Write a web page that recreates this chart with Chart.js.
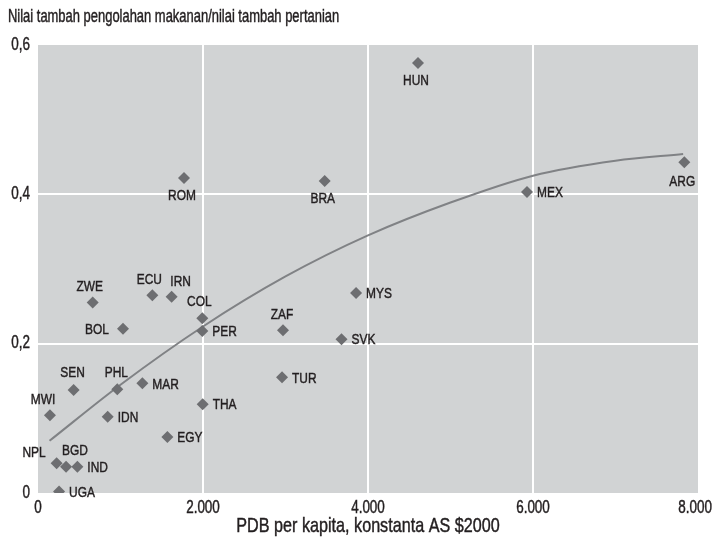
<!DOCTYPE html>
<html>
<head>
<meta charset="utf-8">
<script src="https://cdn.jsdelivr.net/npm/chart.js@4/dist/chart.umd.min.js"></script>
<style>
  html, body { margin: 0; padding: 0; background: #ffffff; }
  #wrap { width: 714px; height: 541px; }
</style>
</head>
<body>
<div id="wrap"><canvas id="chart" width="714" height="541"></canvas></div>
<script>
// Country codes
const countries = ['UGA','NPL','BGD','IND','MWI','SEN','PHL','IDN','MAR','EGY','THA',
  'ZWE','ECU','IRN','COL','PER','BOL','ZAF','SVK','MYS','TUR','HUN','BRA','ROM','MEX','ARG'];
// GDP per capita, constant 2000 US$
const gdpPerCapita = [255, 226, 340, 477, 145, 432, 961, 845, 1265, 1568, 1996,
  663, 1386, 1620, 1992, 1992, 1030, 2970, 3679, 3855, 2958, 4606, 3475, 1770, 5927, 7834];
// Food processing value added / agricultural value added
const foodRatio = [0.002, 0.040, 0.035, 0.035, 0.104, 0.138, 0.139, 0.102, 0.147, 0.075, 0.119,
  0.255, 0.265, 0.263, 0.234, 0.217, 0.220, 0.218, 0.206, 0.268, 0.155, 0.576, 0.418, 0.422, 0.403, 0.443];
// Fitted trend curve
const trendGdp   = [140, 1000, 2000, 3000, 4000, 5000, 6000, 7000, 7820];
const trendRatio = [0.070, 0.145, 0.223, 0.290, 0.345, 0.389, 0.425, 0.445, 0.454];
// Axis ticks
const xTicks = [0, 2000, 4000, 6000, 8000];
const yTicks = [0, 0.2, 0.4, 0.6];

// Label placement next to each marker: [dx, dy, textAlign]
const R = [10, 1, 'left'];
const labelPlace = {
  UGA: R, IND: R, IDN: R, MAR: R, EGY: R, THA: R, PER: R, SVK: R, MYS: R, TUR: R, MEX: R,
  NPL: [-11, -10, 'right'], BGD: [9, -16, 'center'], MWI: [-7, -16, 'center'],
  SEN: [-1, -17, 'center'], PHL: [-1, -16, 'center'], ZWE: [-3, -16, 'center'],
  ECU: [-3, -15, 'center'], IRN: [9, -15, 'center'], COL: [-3, -17, 'center'],
  BOL: [-14, 1, 'right'], ZAF: [-1, -16, 'center'],
  HUN: [-2, 18, 'center'], BRA: [-2, 18, 'center'], ROM: [-2, 18, 'center'], ARG: [-2, 19, 'center']
};

const FONT = "'Liberation Sans', Arial, sans-serif";
const INK = '#231f20';

function fmtThousands(v) {
  return String(Math.round(v)).replace(/\B(?=(\d{3})+(?!\d))/g, '.');
}
function fmtDecimal(v) {
  if (Math.abs(v) < 1e-9) return '0';
  return v.toFixed(1).replace('.', ',');
}

// Condensed text: draw with a horizontal squeeze and a hairline stroke for weight
function condensedText(ctx, text, x, y, size, align, squeeze, maxRight) {
  ctx.save();
  ctx.font = size + 'px ' + FONT;
  ctx.textBaseline = 'middle';
  ctx.textAlign = 'left';
  const w = ctx.measureText(text).width * squeeze;
  let left = align === 'left' ? x : align === 'right' ? x - w : x - w / 2;
  if (maxRight !== undefined && left + w > maxRight) left = maxRight - w;
  ctx.translate(left, y);
  ctx.scale(squeeze, 1);
  ctx.fillStyle = INK;
  ctx.strokeStyle = INK;
  ctx.lineWidth = 0.45;
  ctx.fillText(text, 0, 0);
  ctx.strokeText(text, 0, 0);
  ctx.restore();
}

const scatterPoints = countries.map((c, i) => ({ x: gdpPerCapita[i], y: foodRatio[i] }));
const trendPoints = trendGdp.map((x, i) => ({ x: x, y: trendRatio[i] }));

const plotBackground = {
  id: 'plotBackground',
  beforeDraw(chart) {
    const a = chart.chartArea, ctx = chart.ctx;
    ctx.save();
    ctx.fillStyle = '#d1d3d4';
    ctx.fillRect(a.left, a.top, a.right - a.left, a.bottom - a.top);
    ctx.restore();
  }
};

const textLayer = {
  id: 'textLayer',
  afterDraw(chart) {
    const ctx = chart.ctx, a = chart.chartArea;
    const xs = chart.scales.x, ys = chart.scales.y;
    // heading
    condensedText(ctx, 'Nilai tambah pengolahan makanan/nilai tambah pertanian', 8, 17, 17.5, 'left', 0.74);
    // x-axis title
    condensedText(ctx, 'PDB per kapita, konstanta AS $2000', (a.left + a.right) / 2, 526, 21, 'center', 0.77);
    // tick labels
    xTicks.forEach(v => condensedText(ctx, fmtThousands(v), xs.getPixelForValue(v), a.bottom + 15, 17.5, 'center', 0.77, 712));
    yTicks.forEach(v => condensedText(ctx, fmtDecimal(v), a.left - 8, ys.getPixelForValue(v), 17.5, 'right', 0.77));
    // country labels
    const meta = chart.getDatasetMeta(1);
    meta.data.forEach((pt, i) => {
      const p = labelPlace[countries[i]] || R;
      condensedText(ctx, countries[i], pt.x + p[0], pt.y + p[1], 15.5, p[2], 0.77);
    });
  }
};

Chart.defaults.font.family = FONT;
Chart.defaults.color = INK;

new Chart(document.getElementById('chart'), {
  type: 'scatter',
  data: {
    datasets: [
      {
        type: 'line',
        data: trendPoints,
        borderColor: '#808285',
        borderWidth: 2,
        pointRadius: 0,
        fill: false,
        cubicInterpolationMode: 'monotone',
        order: 2
      },
      {
        data: scatterPoints,
        pointStyle: 'rectRot',
        pointRadius: 6,
        backgroundColor: '#6d6e71',
        borderColor: '#6d6e71',
        borderWidth: 0,
        order: 1
      }
    ]
  },
  options: {
    responsive: false,
    animation: false,
    layout: { padding: { top: 45, right: 16, bottom: 0, left: 0 } },
    plugins: { legend: { display: false }, tooltip: { enabled: false }, title: { display: false } },
    scales: {
      x: {
        type: 'linear',
        min: 0, max: 8000,
        afterBuildTicks(scale) { scale.ticks = xTicks.map(v => ({ value: v })); },
        afterFit(scale) { scale.height = 48; },
        border: { display: false },
        grid: {
          drawTicks: false,
          lineWidth: 2,
          color: ctx => (ctx.index === 0 || ctx.index === xTicks.length - 1) ? 'rgba(0,0,0,0)' : '#ffffff'
        },
        ticks: { display: false }
      },
      y: {
        type: 'linear',
        min: 0, max: 0.6,
        afterBuildTicks(scale) { scale.ticks = yTicks.map(v => ({ value: v })); },
        afterFit(scale) { scale.width = 38; },
        border: { display: false },
        grid: {
          drawTicks: false,
          lineWidth: 2,
          color: ctx => (ctx.index === 0 || ctx.index === yTicks.length - 1) ? 'rgba(0,0,0,0)' : '#ffffff'
        },
        ticks: { display: false }
      }
    }
  },
  plugins: [plotBackground, textLayer]
});
</script>
</body>
</html>
